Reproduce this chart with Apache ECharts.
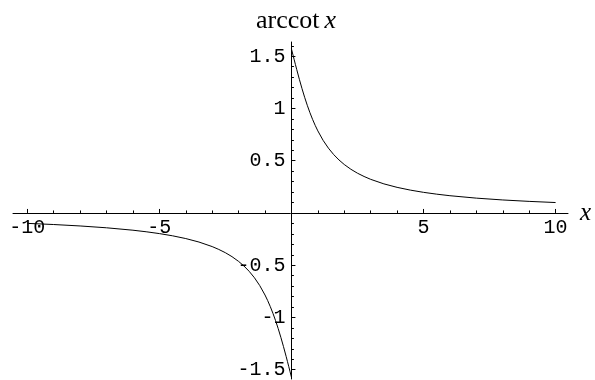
<!DOCTYPE html>
<html>
<head>
<meta charset="utf-8">
<script src="https://cdn.jsdelivr.net/npm/echarts@6/dist/echarts.min.js"></script>
<style>
  html, body { margin: 0; padding: 0; background: #fff; }
  #chart { width: 595px; height: 380px; }
</style>
</head>
<body>
<div id="chart"></div>
<script>
// Branch for x > 0
const xRight = [0, 0.05, 0.1, 0.15, 0.2, 0.3, 0.4, 0.5, 0.6, 0.7, 0.8, 0.9, 1, 1.2, 1.4, 1.6, 1.8, 2, 2.25, 2.5, 2.75, 3, 3.5, 4, 4.5, 5, 5.5, 6, 7, 8, 9, 10];
const yRight = [1.5708, 1.5208, 1.4711, 1.4219, 1.3734, 1.2793, 1.1903, 1.1071, 1.0304, 0.9601, 0.8961, 0.8380, 0.7854, 0.6947, 0.6202, 0.5586, 0.5071, 0.4636, 0.4182, 0.3805, 0.3491, 0.3218, 0.2783, 0.2450, 0.2187, 0.1974, 0.1799, 0.1651, 0.1419, 0.1244, 0.1107, 0.0997];

// Branch for x < 0
const xLeft = [-10, -9, -8, -7, -6, -5.5, -5, -4.5, -4, -3.5, -3, -2.75, -2.5, -2.25, -2, -1.8, -1.6, -1.4, -1.2, -1, -0.9, -0.8, -0.7, -0.6, -0.5, -0.4, -0.3, -0.2, -0.15, -0.1, -0.05, 0];
const yLeft = [-0.0997, -0.1107, -0.1244, -0.1419, -0.1651, -0.1799, -0.1974, -0.2187, -0.2450, -0.2783, -0.3218, -0.3491, -0.3805, -0.4182, -0.4636, -0.5071, -0.5586, -0.6202, -0.6947, -0.7854, -0.8380, -0.8961, -0.9601, -1.0304, -1.1071, -1.1903, -1.2793, -1.3734, -1.4219, -1.4711, -1.5208, -1.5708];

// Tick positions and labels
const xMajor = [-10, -5, 5, 10];
const xMinor = [-9, -8, -7, -6, -4, -3, -2, -1, 1, 2, 3, 4, 6, 7, 8, 9];
const yMajor = [-1.5, -1, -0.5, 0.5, 1, 1.5];
const yMinor = [-1.4, -1.3, -1.2, -1.1, -0.9, -0.8, -0.7, -0.6, -0.4, -0.3, -0.2, -0.1, 0.1, 0.2, 0.3, 0.4, 0.6, 0.7, 0.8, 0.9, 1.1, 1.2, 1.3, 1.4, 1.6];
const xTickLabels = ['-10', '-5', '5', '10'];
const yTickLabels = ['-1.5', '-1', '-0.5', '0.5', '1', '1.5'];

const X_MIN = -10.54, X_MAX = 10.47;
const Y_MIN = -1.589, Y_MAX = 1.636;

// Plot box
const W = 595, H = 380;
const G = { left: 13, right: 27, top: 42, bottom: 1 };
const gw = W - G.left - G.right, gh = H - G.top - G.bottom;

// Shift the axes from the box edges onto the origin (axes cross at 0,0)
const yAxisShift = -gw * (0 - X_MIN) / (X_MAX - X_MIN);
const xAxisShift = -gh * (0 - Y_MIN) / (Y_MAX - Y_MIN);

const tickFont = { fontFamily: 'Liberation Mono', fontSize: 20, color: '#000' };
const black = { color: '#000', width: 1 };

function labelFor(values, labels) {
  return function (v) {
    const i = values.findIndex(function (t) { return Math.abs(t - v) < 1e-9; });
    return i >= 0 ? labels[i] : '';
  };
}

const chart = echarts.init(document.getElementById('chart'), null, { renderer: 'canvas' });

chart.setOption({
  animation: false,
  backgroundColor: '#fff',
  title: {
    text: '{r|arccot} {i|x}',
    left: 251,
    top: 3,
    textStyle: {
      rich: {
        r: { fontFamily: 'Liberation Serif', fontSize: 26, fontWeight: 'normal', color: '#000' },
        i: { fontFamily: 'Liberation Serif', fontSize: 26, fontWeight: 'normal', fontStyle: 'italic', color: '#000' }
      }
    }
  },
  grid: {
    left: G.left, right: G.right, top: G.top, bottom: G.bottom,
    containLabel: false,
    outerBoundsMode: 'none'
  },
  xAxis: [
    {
      type: 'value', min: X_MIN, max: X_MAX, position: 'bottom', offset: xAxisShift,
      axisLine: { show: true, onZero: false, lineStyle: black },
      axisTick: { show: true, inside: true, length: 4, customValues: xMajor, lineStyle: black },
      axisLabel: Object.assign({ show: true, margin: 5, customValues: xMajor, formatter: labelFor(xMajor, xTickLabels) }, tickFont),
      splitLine: { show: false },
      name: 'x', nameLocation: 'end', nameGap: 12,
      nameTextStyle: { fontFamily: 'Liberation Serif', fontStyle: 'italic', fontSize: 25, color: '#000', verticalAlign: 'middle' }
    },
    {
      type: 'value', min: X_MIN, max: X_MAX, position: 'bottom', offset: xAxisShift,
      axisLine: { show: false, onZero: false },
      axisTick: { show: true, inside: true, length: 2.5, customValues: xMinor, lineStyle: black },
      axisLabel: { show: false },
      splitLine: { show: false }
    }
  ],
  yAxis: [
    {
      type: 'value', min: Y_MIN, max: Y_MAX, position: 'left', offset: yAxisShift,
      axisLine: { show: true, onZero: false, lineStyle: black },
      axisTick: { show: true, inside: true, length: 4, customValues: yMajor, lineStyle: black },
      axisLabel: Object.assign({ show: true, margin: 6, customValues: yMajor, formatter: labelFor(yMajor, yTickLabels) }, tickFont),
      splitLine: { show: false }
    },
    {
      type: 'value', min: Y_MIN, max: Y_MAX, position: 'left', offset: yAxisShift,
      axisLine: { show: false, onZero: false },
      axisTick: { show: true, inside: true, length: 2.5, customValues: yMinor, lineStyle: black },
      axisLabel: { show: false },
      splitLine: { show: false }
    }
  ],
  series: [
    {
      type: 'line', xAxisIndex: 0, yAxisIndex: 0,
      data: xLeft.map(function (x, i) { return [x, yLeft[i]]; }),
      showSymbol: false, symbol: 'none',
      lineStyle: { color: '#000', width: 1 },
      silent: true
    },
    {
      type: 'line', xAxisIndex: 0, yAxisIndex: 0,
      data: xRight.map(function (x, i) { return [x, yRight[i]]; }),
      showSymbol: false, symbol: 'none',
      lineStyle: { color: '#000', width: 1 },
      silent: true
    }
  ]
});
</script>
</body>
</html>
